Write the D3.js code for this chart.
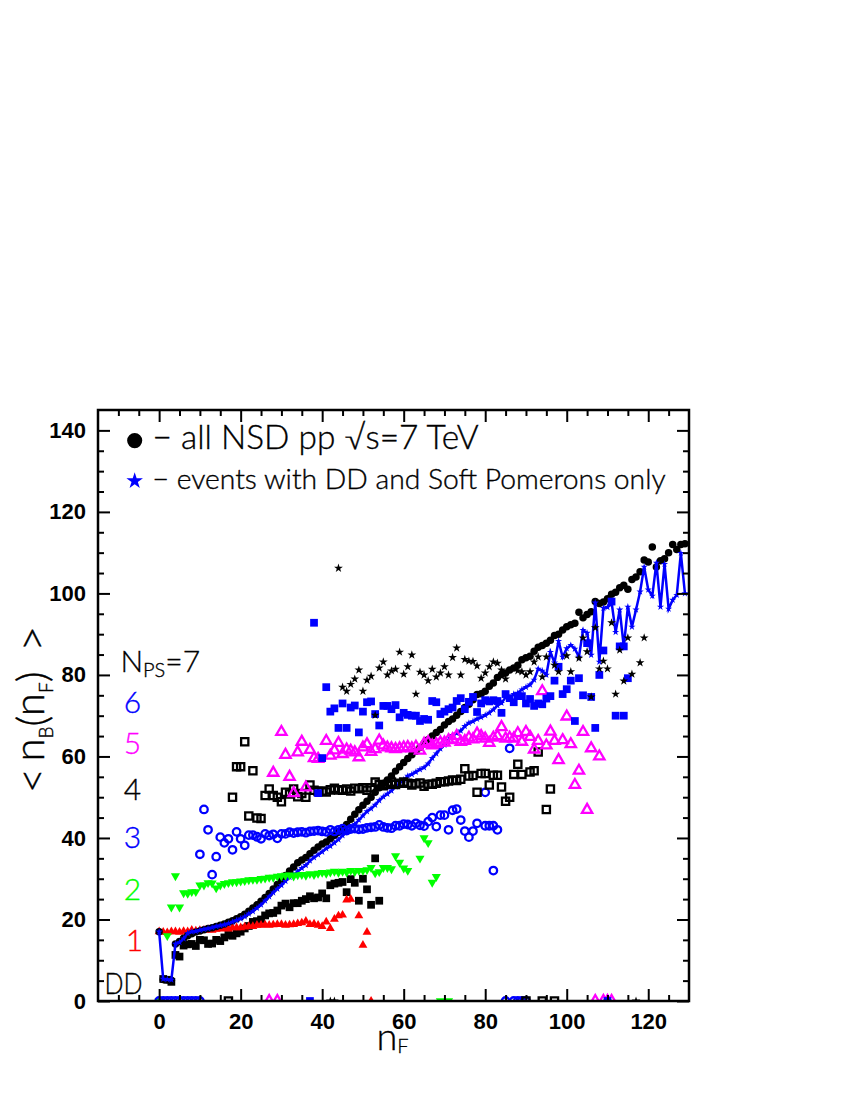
<!DOCTYPE html>
<html>
<head>
<meta charset="utf-8">
<script src="https://cdn.jsdelivr.net/npm/d3@7"></script>
<style>
  html, body { margin: 0; padding: 0; background: #fff; }
  svg { display: block; }
</style>
</head>
<body>
<div id="chart"></div>
<script>
// <nB(nF)> per Pomeron-string count
const xTicks = [0, 20, 40, 60, 80, 100, 120];
const yTicks = [0, 20, 40, 60, 80, 100, 120, 140];

// all NSD, nF = 0..129
const nsdY = [17,5.3,5.2,5.1,14,14.6,15.4,16,16.5,16.9,
  17.2,17.5,17.8,18,18.3,18.6,18.9,19.3,19.7,20.2,
  20.7,21.3,22,22.8,23.6,24.5,25.4,26.4,27.5,28.6,
  29.8,30.8,31.9,32.9,33.9,34.6,35.2,36.1,37,37.8,
  38.5,39,39.8,40.6,41.4,42.3,43.3,44.6,45.8,46.9,
  48,49,50,51.2,52.3,53.3,54.2,55.2,56.4,57.5,
  58.5,59.5,60.4,61.3,62.2,63.2,64.1,65,65.9,66.6,
  67.7,68.6,69.2,70.1,71,72,72.8,73.9,75.2,75.4,
  76,77.2,78,79.4,80.1,80.5,81.2,81.7,82.4,83.7,
  84.2,84.6,85.8,86.8,87.2,87.8,88.5,89.7,90,91,
  91.8,92.3,92.7,95.4,94,94.8,95.5,98,97.5,97.9,
  98.7,99.8,100.3,101.4,102,101,103.4,104,105.3,108.2,
  107.7,111.4,106.5,108,108.5,110,112,110.8,112,112.2];

// DD + soft Pomerons only, nF = 0..129
const softY = [17,5.4,5.3,5.2,14,14.4,15.3,16.6,17,17.1,
  17.4,17.6,17.8,18,18.3,18.5,18.7,19,19.4,19.8,
  20.2,20.7,21.4,22,22.8,23.6,24.6,25.6,26.6,27.5,
  28.4,29.4,30.4,31,31.8,32.6,33.3,34.4,35.2,35.9,
  36.6,37.4,38,38.8,39.6,40.6,41.4,42.4,43.4,44.4,
  45.5,46.5,47.2,48.1,49.2,50.1,50.8,51.6,52.6,53.4,
  54.3,55.2,55.6,56.2,56.8,57.3,58.2,59.6,60.7,61.9,
  62.8,64,65.2,65.7,66.3,67.4,68.2,68.6,69.2,69.6,
  70.1,70.7,71.5,72.5,73.1,74.5,74.2,75.3,75.6,76.4,
  77,77.6,78.8,81.5,81,80,85.6,83,88.3,84.4,
  86.5,87.3,86.4,84.4,91,90.3,84.9,97.7,83.2,96.4,
  96.6,97.9,90.5,96,86.9,96.7,91.8,96,100.4,106.5,
  100.9,99.4,107.5,96.7,107.2,96.2,98.4,99.6,109.9,100];

const ddX = [1,2,3,4,5,6,7,8,9,10,11,12,13,14,15,16,17,18,19,20,21,22,23,24,25,26,27,28,29,30,31,32,33,34,35,36,37,38,39,40,41,42,43,44,45,46,47,48,49,50,51,52,53,54];
const ddY = [5.4,5.2,4.7,11.3,10.9,13.6,13.9,14,13.5,15,14.9,14,14.1,15,14.7,15.6,16.2,16,16.6,17,17.8,18.4,19.4,19.6,20,21,21.5,21.6,22.2,23.4,23.9,23,24,24,24.6,25,25.7,25.2,25.4,26.4,25.2,28.4,28.8,29,29.2,26.7,29.9,29,24.6,30,27.4,23.6,35,24.6];

const nps1X = [0,1,2,3,4,5,6,7,8,9,10,11,12,13,14,15,16,17,18,19,20,21,22,23,24,25,26,27,28,29,30,31,32,33,34,35,36,37,38,39,40,41,42,43,44,45,46,47,49,50,51];
const nps1Y = [17,16.9,16.8,17,17,16.9,17.1,17,17.4,17.2,17.3,17.4,17.5,17.4,17.6,17.7,17.8,17.7,18,18,18,18.2,18.3,18.3,18.6,18.6,18.7,18.6,18.7,18.8,18.8,18.6,18.7,18.8,19,19.2,19.6,18.8,18.9,18.6,18.3,19.4,17.8,20.1,20.9,21.1,24.8,25,20.9,13.7,16.9];
const nps1Zero = [52];

const nps2X = [2,3,4,5,6,7,8,9,10,11,12,13,14,15,16,17,18,19,20,21,22,23,24,25,26,27,28,29,30,31,32,33,34,35,36,37,38,39,40,41,42,43,44,45,46,47,48,49,50,51,52,53,54,55,56,57,58,59,60,61,64,65,66,67,68];
const nps2Y = [16,23,30.7,23,26.5,26.4,26.8,26.8,28.4,28.4,29,28.9,27.7,28.4,28.8,29,29.2,29.2,29.4,29.5,29.7,29.8,29.8,30,30.1,30.3,30.3,30.6,30.7,30.8,30.9,30.6,30.9,31,30.8,31.2,31,31.3,31.5,31.3,31.6,31.8,31.5,31.8,31.6,32,31.7,32,32,32.2,32.7,31.4,31.7,32.7,32.7,32.4,35.6,34,32.6,32,35,40,38.8,29.1,30.5];
const nps2Zero = [0,69,71];

const nps3X = [10,11,12,13,14,15,16,17,18,19,20,21,22,23,24,25,26,27,28,29,30,31,32,33,34,35,36,37,38,39,40,41,42,43,44,45,46,47,48,49,50,51,52,53,54,55,56,57,58,59,60,61,62,63,64,65,66,67,68,69,70,71,72,73,74,75,76,77,78,80,80,81,82,82,83,86];
const nps3Y = [36,47,42,31,35.4,40.2,38.8,39.8,37.1,41.5,39.8,38.2,40.7,40.7,40.3,39.8,41,40.6,40.9,39.9,41,41,41.4,41.2,41.4,41.5,41.3,41.6,41.7,41.8,41.6,41.5,42,41.6,42,42.3,41.8,42.2,42.3,42.1,42.2,42.5,42.6,42.7,43.2,42.7,42.5,42.4,43,43,43.4,43.3,43,43.6,43.1,42.9,44,45,42.8,45.6,45.6,42,46.8,47.1,44.4,41.7,40.2,41.7,43.6,51.2,43,43,43,32,42,62];
const nps3Zero = [0,1,2,3,4,5,6,7,8,9,10,85,87,88,89,90];

const nps4X = [18,19,20,21,22,23,24,25,26,27,28,29,30,31,32,33,34,35,36,37,38,39,40,41,42,43,44,45,46,47,48,49,50,51,52,53,54,55,56,57,58,59,60,61,62,63,64,65,66,67,68,69,70,71,72,73,74,75,76,77,78,79,80,81,82,83,84,85,86,87,88,89,91,92,93,95,96];
const nps4Y = [50,57.5,57.5,63.6,45.4,56.5,44.9,44.8,50.4,52,50.4,50,48.9,51.2,50.8,52,50.1,50.9,50,53,51.7,51.4,51.5,51.3,51.8,52.2,51.8,51.7,52,51.5,52.2,52.1,52.3,51.7,52.3,53.7,53.1,52.8,53.2,53.7,53.1,53.4,53.7,53.4,53,53.3,53.5,52.7,53.2,53.2,53.4,53.8,53.8,54,54.2,54.1,54.4,57,55.2,55.3,51.2,55.8,55.8,53,55.4,55.4,52.5,49,50,55.6,58.1,55.6,56.2,56.5,61.1,47,52];
const nps4Zero = [17,90,94,97];

const nps5X = [28,30,31,32,33,34,35,36,37,38,39,41,42,43,44,45,46,47,48,49,50,51,52,53,54,55,56,57,58,59,60,61,62,63,64,65,66,67,68,69,70,71,72,73,74,75,76,77,78,79,80,81,82,83,84,85,86,87,88,89,90,91,92,93,94,95,96,97,98,99,100,101,102,103,104,105,106,108];
const nps5Y = [56,66,60.4,55,51,61,63.6,52.4,61.6,59.6,59.4,63.8,60.2,61.5,63.3,60.6,61.7,61.4,61,59.8,62.2,63,61.1,61.8,63.9,62.7,62.2,62,61.8,62,62.2,62.3,62,62.4,61.4,63.1,63.5,62.7,63,63.4,63.4,64,64.2,65,63.6,63.8,64.6,64.2,65.6,65,64.4,63.3,64.6,65,67.2,64.4,64.6,64.4,65.7,63.6,66,64.8,61.7,63.8,76,62.7,66.1,63.8,59.1,64,69.8,63,53,56.5,66,46.9,62,60];
const nps5Zero = [27,29,107,109,110,111];

const nps6X = [38,39,40,41,42,43,44,45,46,47,48,49,50,51,52,53,54,55,56,57,58,59,60,61,62,63,64,65,66,67,68,69,70,71,72,73,74,75,76,77,78,79,80,81,82,83,84,85,86,87,88,89,90,91,92,93,94,95,96,97,98,99,100,101,102,103,104,105,106,107,108,109,111,112,113,114,114,115];
const nps6Y = [92.8,51,59.6,77,71,71.8,67,73,67,72,72.5,65.9,71,73.3,73.5,70.4,67.6,72.4,72.4,71.6,72.6,69.6,70.7,70.2,70,70,68.7,69.2,69,73.6,73.3,70.4,71,71.6,72,73.6,74.3,71.6,73.4,74.6,70.9,73,73.8,73.5,73.8,73.6,70.7,75.3,74.3,73.3,74.8,74.8,73,74.1,72.4,73,72.8,74.2,74.8,78.6,82,75.3,76.5,78.6,68.7,79.2,75,87.8,74.6,67,80,86,98,70,87,70,87,79.2];
const nps6Zero = [37,110];

const nps7X = [44,45,46,47,48,49,50,51,52,53,54,55,56,57,58,59,60,61,62,63,64,65,66,67,68,69,70,71,72,73,74,75,76,77,78,79,80,81,82,83,84,85,88,89,90,91,92,93,94,95,97,98,100,101,103,104,105,106,107,108,109,110,111,112,113,114,115,116,118,119];
const nps7Y = [106.2,77,76,77.7,79,81.2,76,78.7,79.7,70.1,81.7,83.2,80,81,81.4,85.6,80.2,82,84.9,75.3,80.7,80,78.6,81.4,79.5,80.5,82,80,84.3,86.6,80,83.8,83.4,83.3,82.2,79.2,80.5,82,83.2,82.9,81.2,79,81,80.8,80,80.8,83.2,84.4,79.5,84.4,82.4,80.8,84.7,80.8,84.1,89.1,85.7,74.6,91.6,81.5,83.4,81.5,92.8,75.3,86.1,78.5,89.1,80.2,83,89.1];
const nps7Zero = [42,43,117];

const width = 850, height = 1100;
const margin = {top: 410, right: 161, bottom: 99, left: 98};
const blue = '#0000ff', green = '#00ff00', magenta = '#ff00ff', red = '#ff0000';
const thinFont = '"Lato", "DejaVu Sans", sans-serif';

const svg = d3.select('#chart').append('svg')
  .attr('width', width)
  .attr('height', height);

const x = d3.scaleLinear().domain([-15, 130]).range([margin.left, width - margin.right]);
const y = d3.scaleLinear().domain([0, 145]).range([height - margin.bottom, margin.top]);

svg.append('clipPath').attr('id', 'frame')
  .append('rect')
  .attr('x', margin.left).attr('y', margin.top)
  .attr('width', x.range()[1] - x.range()[0])
  .attr('height', y.range()[0] - y.range()[1]);

const plot = svg.append('g').attr('clip-path', 'url(#frame)');

const shapes = {
  circle: d3.symbol(d3.symbolCircle, 44),
  star: d3.symbol(d3.symbolStar, 24),
  softStar: d3.symbol(d3.symbolStar, 16),
  square: d3.symbol(d3.symbolSquare, 60),
  openSquare: d3.symbol(d3.symbolSquare, 52),
  up: d3.symbol(d3.symbolTriangle, 34),
  openUp: d3.symbol(d3.symbolTriangle, 46),
  down: d3.symbol(d3.symbolTriangle, 36),
  openCircle: d3.symbol(d3.symbolCircle, 44)
};

function drawSeries(xs, ys, zeros, shape, fill, stroke, rotate) {
  const pts = xs.map((d, i) => [d, ys[i]]).concat((zeros || []).map(d => [d, 0]));
  plot.append('g').selectAll('path').data(pts).enter().append('path')
    .attr('d', shape)
    .attr('transform', d => `translate(${x(d[0])},${y(d[1])})` + (rotate ? ' rotate(180)' : ''))
    .attr('fill', fill)
    .attr('stroke', stroke || 'none')
    .attr('stroke-width', stroke ? 2.3 : 0);
}

const nsdX = d3.range(nsdY.length);
const softX = d3.range(softY.length);

drawSeries(ddX, ddY, null, shapes.square, '#000');
drawSeries(nps1X, nps1Y, nps1Zero, shapes.up, red);
drawSeries(nsdX, nsdY, null, shapes.circle, '#000');

// soft-only curve: line plus little stars
plot.append('path')
  .attr('d', d3.line().x((d, i) => x(softX[i])).y(d => y(d))(softY))
  .attr('fill', 'none')
  .attr('stroke', blue)
  .attr('stroke-width', 2.5);
drawSeries(softX, softY, null, shapes.softStar, blue);

drawSeries(nps2X, nps2Y, nps2Zero, shapes.down, green, null, true);
drawSeries(nps3X, nps3Y, nps3Zero, shapes.openCircle, 'none', blue);
drawSeries(nps4X, nps4Y, nps4Zero, shapes.openSquare, 'none', '#000');
drawSeries(nps5X, nps5Y, nps5Zero, shapes.openUp, 'none', magenta);
drawSeries(nps6X, nps6Y, nps6Zero, shapes.square, blue);
drawSeries(nps7X, nps7Y, nps7Zero, shapes.star, '#000');

// axes, ticks on all four sides pointing inward
const innerW = x.range()[1] - x.range()[0];
const innerH = y.range()[0] - y.range()[1];
const xMinor = d3.range(-10, 130, 5).filter(d => !xTicks.includes(d));
const yMinor = d3.range(5, 145, 5).filter(d => !yTicks.includes(d));

function axisGroup(axis, tx, ty) {
  const g = svg.append('g').attr('transform', `translate(${tx},${ty})`).call(axis);
  g.selectAll('line').attr('stroke', '#000').attr('stroke-width', 2);
  g.select('.domain').remove();
  return g;
}

const fmt = d => d;
const bottom = height - margin.bottom, right = x.range()[1];
const labelStyle = g => g.selectAll('text')
  .attr('font-family', '"Liberation Sans", Arial, sans-serif')
  .attr('font-weight', 'bold')
  .attr('font-size', 22)
  .attr('fill', '#000');

labelStyle(axisGroup(d3.axisBottom(x).tickValues(xTicks).tickSize(-12).tickPadding(12).tickFormat(fmt), 0, bottom));
axisGroup(d3.axisBottom(x).tickValues(xMinor).tickSize(-6).tickFormat(''), 0, bottom);
axisGroup(d3.axisTop(x).tickValues(xTicks).tickSize(-12).tickFormat(''), 0, margin.top);
axisGroup(d3.axisTop(x).tickValues(xMinor).tickSize(-6).tickFormat(''), 0, margin.top);
labelStyle(axisGroup(d3.axisLeft(y).tickValues(yTicks).tickSize(-12).tickPadding(12).tickFormat(fmt), margin.left, 0));
axisGroup(d3.axisLeft(y).tickValues(yMinor).tickSize(-6).tickFormat(''), margin.left, 0);
axisGroup(d3.axisRight(y).tickValues(yTicks).tickSize(-12).tickFormat(''), right, 0);
axisGroup(d3.axisRight(y).tickValues(yMinor).tickSize(-6).tickFormat(''), right, 0);

svg.append('rect')
  .attr('x', margin.left).attr('y', margin.top)
  .attr('width', innerW).attr('height', innerH)
  .attr('fill', 'none').attr('stroke', '#000').attr('stroke-width', 2.5);

// legend
svg.append('path')
  .attr('d', d3.symbol(d3.symbolCircle, 180)())
  .attr('transform', `translate(${x(-6)},${y(137.5)})`)
  .attr('fill', '#000');
svg.append('path')
  .attr('d', d3.symbol(d3.symbolStar, 85)())
  .attr('transform', `translate(${x(-6)},${y(127.6)})`)
  .attr('fill', blue);

function label(txt, px, py, size, color, len) {
  const t = svg.append('text')
    .attr('x', px).attr('y', py)
    .attr('font-family', thinFont)
    .attr('font-weight', 300)
    .attr('font-size', size)
    .attr('fill', color || '#000')
    .attr('stroke', color || '#000')
    .attr('stroke-width', 0.35)
    .text(txt);
  if (len) t.attr('textLength', len).attr('lengthAdjust', 'spacingAndGlyphs');
  return t;
}

label('\u2212 all NSD pp \u221As=7 TeV', x(-1.6), y(135.5), 33, '#000', 326);
label('\u2212 events with DD and Soft Pomerons only', x(-1.6), y(125.5), 27, '#000', 513);

const nps = label('N', x(-9.5), y(80.8), 30);
nps.append('tspan').attr('font-size', 20).attr('dy', 5).text('PS');
nps.append('tspan').attr('dy', -5).text('=7');

label('6', x(-8.7), y(70.7), 30, blue);
label('5', x(-8.7), y(60.7), 30, magenta);
label('4', x(-8.7), y(49.3), 30, '#000');
label('3', x(-8.7), y(37.6), 30, blue);
label('2', x(-8.7), y(24.8), 30, green);
label('1', x(-8.2), y(12.3), 30, red);
label('DD', x(-13.4), y(1.8), 30, '#000', 38);

// axis titles
const xt = label('n', x(53.3), bottom + 49, 38);
xt.append('tspan').attr('font-size', 20).attr('dy', 3).text('F');

const yt = svg.append('text')
  .attr('transform', `translate(44,${y(51)}) rotate(-90)`)
  .attr('font-family', thinFont)
  .attr('font-weight', 300)
  .attr('font-size', 42)
  .attr('fill', '#000')
  .attr('stroke', '#000')
  .attr('stroke-width', 0.4);
yt.append('tspan').attr('font-size', 44).attr('dy', 3).text('<');
yt.append('tspan').attr('dx', 6).attr('dy', -3).text('n');
yt.append('tspan').attr('font-size', 19).attr('dy', 9).text('B');
yt.append('tspan').attr('font-size', 42).attr('dy', -6).text('(');
yt.append('tspan').attr('dy', -3).text('n');
yt.append('tspan').attr('font-size', 19).attr('dy', 9).text('F');
yt.append('tspan').attr('font-size', 42).attr('dy', -6).text(')');
yt.append('tspan').attr('dx', 20).attr('font-size', 44).text('>');
</script>
</body>
</html>
